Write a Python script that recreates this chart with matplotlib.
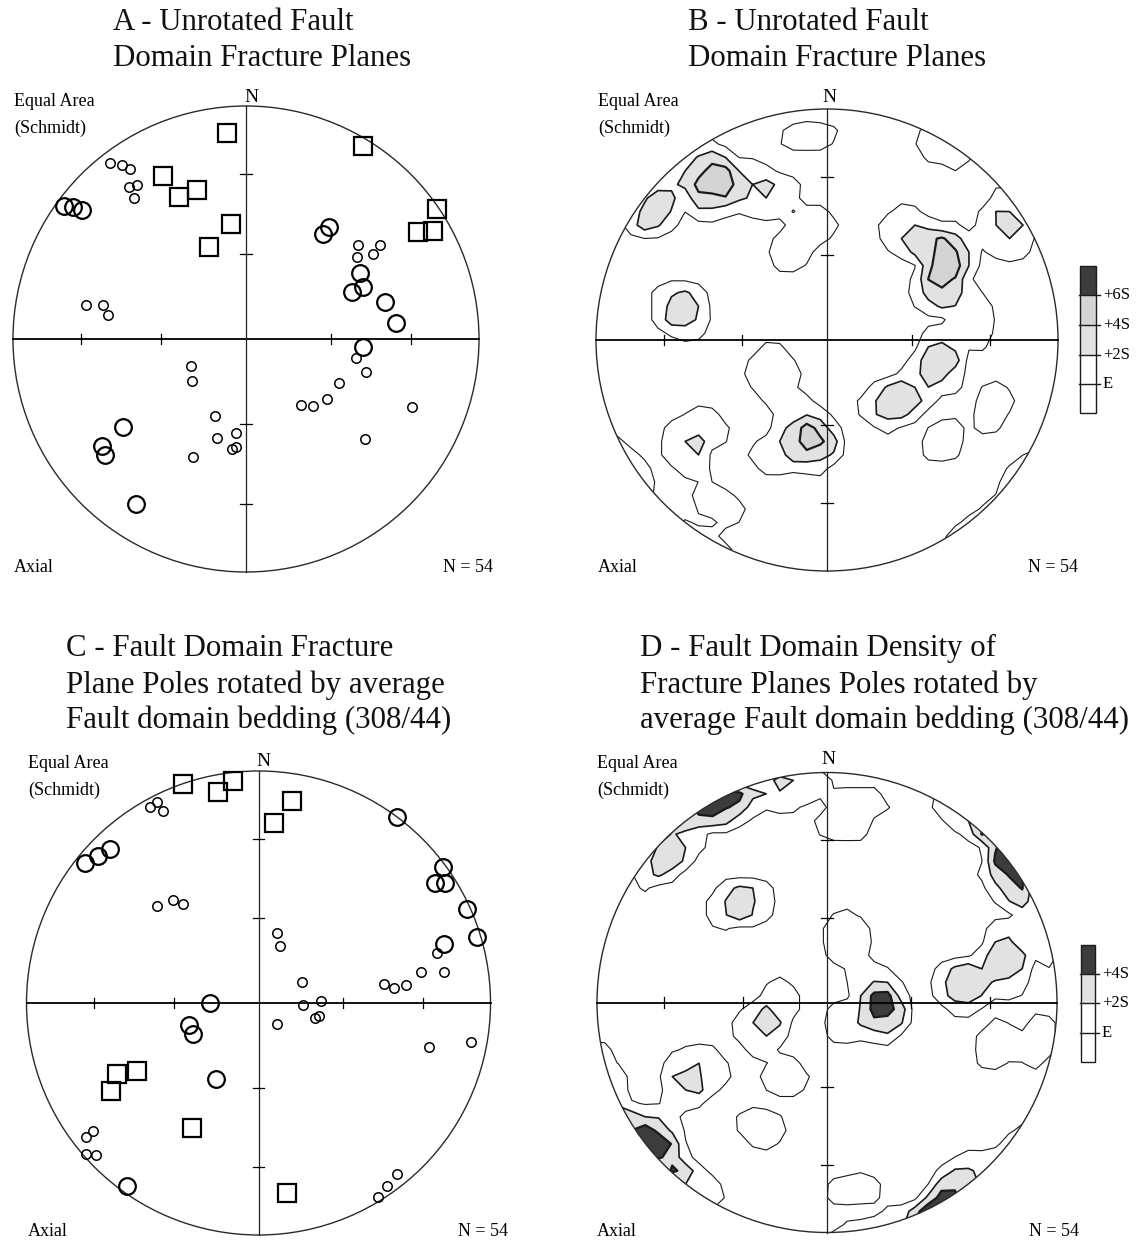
import numpy as np
import matplotlib
matplotlib.use("Agg")
import matplotlib.pyplot as plt
from matplotlib.patches import Circle, Rectangle

W, H = 1137, 1241
plt.rcParams['font.family'] = ['Liberation Serif', 'DejaVu Serif']

# ---------------------------------------------------------------------------
# Fracture plane poles, equal-area (Schmidt) lower hemisphere coordinates
# (east, north) on a unit primitive circle.
# ---------------------------------------------------------------------------
# Unrotated fault domain
a_square_x = [-0.083, 0.501, -0.358, -0.212, -0.286, -0.064, -0.157, 0.818, 0.737, 0.804]
a_square_y = [0.885, 0.828, 0.700, 0.639, 0.608, 0.494, 0.393, 0.557, 0.461, 0.465]

a_big_x = [-0.781, -0.744, -0.705, 0.358, 0.329, 0.489, 0.501, 0.454, 0.597, 0.644,
           0.504, -0.527, -0.619, -0.605, -0.472]
a_big_y = [0.571, 0.565, 0.554, 0.482, 0.451, 0.282, 0.222, 0.203, 0.160, 0.067,
           -0.033, -0.379, -0.459, -0.498, -0.710]

a_small_x = [-0.584, -0.534, -0.498, -0.469, -0.501, -0.481, -0.687, -0.615, -0.594,
             0.479, 0.575, 0.475, 0.546, 0.471, 0.514, 0.399, 0.346, 0.286, 0.236,
             0.714, 0.511, -0.237, -0.232, -0.132, -0.123, -0.043, -0.061, -0.043, -0.229]
a_small_y = [0.757, 0.747, 0.728, 0.661, 0.654, 0.607, 0.144, 0.146, 0.101,
             0.402, 0.402, 0.353, 0.365, -0.083, -0.140, -0.187, -0.259, -0.288, -0.282,
             -0.290, -0.431, -0.116, -0.179, -0.330, -0.423, -0.402, -0.474, -0.462, -0.505]

# Rotated by average fault domain bedding (308/44)
c_square_x = [-0.327, -0.173, -0.109, 0.144, 0.068, -0.609, -0.522, -0.636, -0.287, 0.121]
c_square_y = [0.943, 0.911, 0.958, 0.871, 0.774, -0.306, -0.292, -0.378, -0.540, -0.817]

c_big_x = [-0.748, -0.690, -0.640, 0.596, 0.797, 0.761, 0.804, 0.897, 0.941, 0.800,
           -0.209, -0.298, -0.284, -0.183, -0.568]
c_big_y = [0.605, 0.634, 0.664, 0.803, 0.585, 0.519, 0.519, 0.404, 0.283, 0.253,
           0.001, -0.095, -0.134, -0.329, -0.787]

c_small_x = [-0.468, -0.436, -0.410, -0.439, -0.367, -0.327, 0.081, 0.093, 0.186, 0.190,
             0.268, 0.244, 0.262, 0.078, 0.542, 0.584, 0.636, 0.699, 0.768, 0.801,
             0.736, 0.915, -0.712, -0.744, -0.744, -0.700, 0.596, 0.552, 0.514]
c_small_y = [0.846, 0.868, 0.829, 0.418, 0.444, 0.425, 0.300, 0.246, 0.092, -0.009,
             0.009, -0.066, -0.055, -0.092, 0.082, 0.063, 0.076, 0.134, 0.214, 0.135,
             -0.188, -0.167, -0.550, -0.576, -0.652, -0.657, -0.737, -0.789, -0.838]

COUNT_AREA = 0.01          # 1 % counting circle
EDGE_SOFTNESS = 1.5        # degrees of linear taper either side of the circle rim
GRID_STEP = 2.0 / 34

LIGHT = '#e2e2e2'
MEDIUM = '#d4d4d4'
DARK = '#3c3c3c'


def to_vectors(x, y):
    """Equal-area projection coordinates -> unit vectors (lower hemisphere)."""
    x = np.asarray(x, float)
    y = np.asarray(y, float)
    r = np.hypot(x, y)
    rc = np.minimum(r, np.sqrt(2) - 1e-9)
    theta = 2 * np.arcsin(rc / np.sqrt(2))
    safe = np.where(r > 0, r, 1.0)
    ux = np.where(r > 0, x / safe, 0.0)
    uy = np.where(r > 0, y / safe, 0.0)
    return np.stack([np.sin(theta) * ux, np.sin(theta) * uy, -np.cos(theta)], axis=-1)


def circle_counts(px, py, step=GRID_STEP, extent=1.2, area=COUNT_AREA):
    """Counting-circle totals at grid nodes (axial data), with a narrow
    linear taper at the rim of the counting circle."""
    n_side = int(round(2 * extent / step))
    g = np.linspace(-extent, extent, n_side + 1)
    gx, gy = np.meshgrid(g, g)
    nodes = to_vectors(gx.ravel(), gy.ravel())
    pts = to_vectors(px, py)
    alpha = np.degrees(np.arccos(1 - area))
    ang = np.degrees(np.arccos(np.clip(np.abs(nodes @ pts.T), -1, 1)))
    w = np.clip((alpha + EDGE_SOFTNESS - ang) / (2 * EDGE_SOFTNESS), 0, 1)
    return gx, gy, w.sum(axis=1).reshape(gx.shape)


def make_net(center, radius, pad=1.08):
    cx, cy = center
    ax = fig.add_axes([(cx - pad * radius) / W, 1 - (cy + pad * radius) / H,
                       2 * pad * radius / W, 2 * pad * radius / H])
    ax.set_xlim(-pad, pad)
    ax.set_ylim(-pad, pad)
    ax.axis('off')
    return ax


def draw_frame(ax):
    prim = Circle((0, 0), 1, fill=False, lw=1.0, ec='#2a2a2a', zorder=4)
    ax.add_patch(prim)
    ax.plot([-1, 1], [0, 0], color='black', lw=1.3, zorder=4)
    ax.plot([0, 0], [-1, 1], color='#222222', lw=0.9, zorder=4)
    for t in (0.366, 0.707):
        for s in (-1, 1):
            ax.plot([s * t, s * t], [-0.022, 0.022], color='black', lw=0.9, zorder=4)
            ax.plot([-0.025, 0.025], [s * t, s * t], color='black', lw=0.9, zorder=4)
    return prim


def draw_points(ax, sq, big, small):
    ax.plot(sq[0], sq[1], ls='none', marker='s', ms=12.5, mfc='none', mec='black',
            mew=1.6, clip_on=False, zorder=5)
    ax.plot(big[0], big[1], ls='none', marker='o', ms=12.0, mfc='none', mec='black',
            mew=1.6, clip_on=False, zorder=5)
    ax.plot(small[0], small[1], ls='none', marker='o', ms=6.8, mfc='none', mec='black',
            mew=1.1, clip_on=False, zorder=5)


def draw_density(ax, px, py, nsig):
    n = len(px)
    e = n * COUNT_AREA
    s = np.sqrt(n * COUNT_AREA * (1 - COUNT_AREA))
    gx, gy, counts = circle_counts(px, py)
    prim = draw_frame(ax)
    if nsig == 6:
        fill_levels = [e + 2 * s, e + 4 * s, e + 6 * s, 1e6]
        fill_colors = [LIGHT, MEDIUM, DARK]
    else:
        fill_levels = [e + 2 * s, e + 4 * s, 1e6]
        fill_colors = [LIGHT, DARK]
    cf = ax.contourf(gx, gy, counts, levels=fill_levels, colors=fill_colors, zorder=1)
    cf.set_clip_path(prim)
    line_levels = [e + 2 * s * k for k in range(nsig // 2 + 1)]
    widths = [0.8, 1.2, 1.6, 1.2][:len(line_levels)]
    cl = ax.contour(gx, gy, counts, levels=line_levels, colors='#1a1a1a',
                    linewidths=widths, zorder=2)
    cl.set_clip_path(prim)


fig = plt.figure(figsize=(W / 100, H / 100), dpi=100)

# Panel A
axA = make_net((246, 339), 233)
draw_frame(axA)
draw_points(axA, (a_square_x, a_square_y), (a_big_x, a_big_y), (a_small_x, a_small_y))

# Panel B
axB = make_net((827, 340), 231)
draw_density(axB, a_square_x + a_big_x + a_small_x, a_square_y + a_big_y + a_small_y, 6)

# Panel C
axC = make_net((258.5, 1003), 232)
draw_frame(axC)
draw_points(axC, (c_square_x, c_square_y), (c_big_x, c_big_y), (c_small_x, c_small_y))

# Panel D
axD = make_net((827, 1002.5), 230)
draw_density(axD, c_square_x + c_big_x + c_small_x, c_square_y + c_big_y + c_small_y, 4)

# Overlay in pixel units for titles, annotations and legends
ov = fig.add_axes([0, 0, 1, 1], facecolor='none')
ov.set_xlim(0, W)
ov.set_ylim(H, 0)
ov.axis('off')

TFS = 22.2
titles = [
    (113, [22, 58], ["A - Unrotated Fault", "Domain Fracture Planes"]),
    (688, [22, 58], ["B - Unrotated Fault", "Domain Fracture Planes"]),
    (66, [648, 685, 720], ["C - Fault Domain Fracture", "Plane Poles rotated by average",
                           "Fault domain bedding (308/44)"]),
    (640, [648, 685, 720], ["D - Fault Domain Density of", "Fracture Planes Poles rotated by",
                            "average Fault domain bedding (308/44)"]),
]
for x, ys, lines in titles:
    for y, line in zip(ys, lines):
        ov.text(x, y, line, fontsize=TFS, ha='left', va='center', color='#111111')

SFS = 13
labels = [
    # (left x, top-label y, schmidt y, axial y, N=54 right x, north x, north y)
    (14, 101, 128, 568, 493, 251, 97),
    (598, 101, 128, 568, 1078, 829, 97),
    (28, 764, 790, 1232, 508, 263, 761),
    (597, 764, 790, 1232, 1079, 828, 760),
]
for lx, ey, sy, axy, nx, nnx, nny in labels:
    ov.text(lx, ey, "Equal Area", fontsize=SFS, ha='left', va='center')
    ov.text(lx, sy, "(Schmidt)", fontsize=SFS, ha='left', va='center')
    ov.text(lx, axy, "Axial", fontsize=SFS, ha='left', va='center')
    ov.text(nx, axy, "N = 54", fontsize=SFS, ha='right', va='center')
    ov.text(nnx, nny, "N", fontsize=SFS + 1, ha='center', va='center')


def legend(x0, x1, bounds, fills, labels_):
    for (ya, yb), fc in zip(zip(bounds[:-1], bounds[1:]), fills):
        ov.add_patch(Rectangle((x0, ya), x1 - x0, yb - ya, fc=fc, ec='none'))
    ov.add_patch(Rectangle((x0, bounds[0]), x1 - x0, bounds[-1] - bounds[0],
                           fill=False, ec='#1a1a1a', lw=1.0))
    for yb, lab in zip(bounds[1:-1], labels_):
        ov.plot([x0 - 1, x1 + 4], [yb, yb], color='#1a1a1a', lw=1.0)
        ov.text(x1 + 7, yb, lab, fontsize=12, ha='left', va='center')


legend(1080, 1096, [266, 295, 325, 355, 384, 413],
       [DARK, MEDIUM, LIGHT, 'white', 'white'], ["+6S", "+4S", "+2S", "E"])
legend(1081, 1095, [945, 974, 1003, 1033, 1062],
       [DARK, LIGHT, 'white', 'white'], ["+4S", "+2S", "E"])

fig.savefig("out.png", dpi=100, facecolor='white')
